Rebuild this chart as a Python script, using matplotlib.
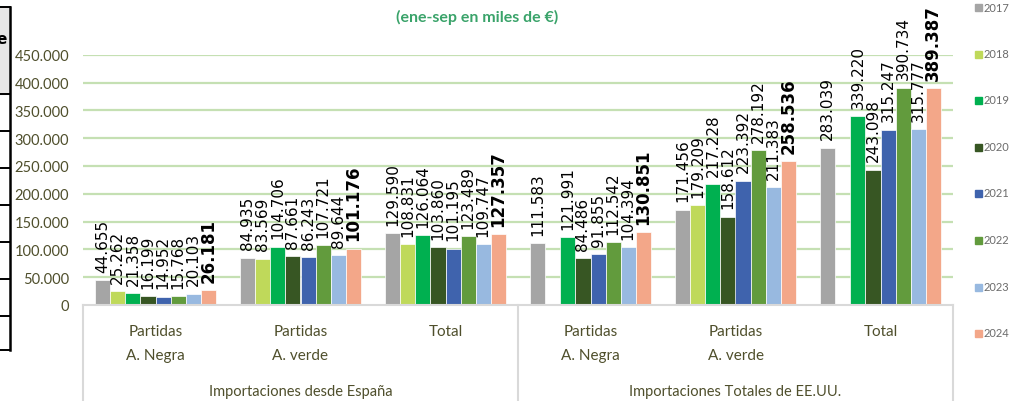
import numpy as np
import matplotlib
matplotlib.use("Agg")
import matplotlib.pyplot as plt
from matplotlib.lines import Line2D
from matplotlib.patches import Rectangle
from matplotlib.ticker import FuncFormatter

# ---- data (miles de €, ene-sep) ----
years = ["2017", "2018", "2019", "2020", "2021", "2022", "2023", "2024"]
categories = ["Partidas\nA. Negra", "Partidas\nA. verde", "Total",
              "Partidas\nA. Negra", "Partidas\nA. verde", "Total"]
groups = ["Importaciones desde España", "Importaciones Totales de EE.UU."]

v2017 = [44655, 84935, 129590, 111583, 171456, 283039]
v2018 = [25262, 83569, 108831, None, 179209, None]
v2019 = [21358, 104706, 126064, 121991, 217228, 339220]
v2020 = [16199, 87661, 103860, 84486, 158612, 243098]
v2021 = [14952, 86243, 101195, 91855, 223392, 315247]
v2022 = [15768, 107721, 123489, 112542, 278192, 390734]
v2023 = [20103, 89644, 109747, 104394, 211383, 315777]
v2024 = [26181, 101176, 127357, 130851, 258536, 389387]
series = [v2017, v2018, v2019, v2020, v2021, v2022, v2023, v2024]

colors = ["#A5A5A5", "#BFD95A", "#00B050", "#375623",
          "#3F63AD", "#629B3D", "#98B9E0", "#F3A789"]

W, H = 1013, 402
fig = plt.figure(figsize=(W / 100, H / 100), dpi=100)


def px_box(x0, y_top, x1, y_bot):
    """Figure-fraction rect from pixel coordinates (origin top-left)."""
    return [x0 / W, 1 - y_bot / H, (x1 - x0) / W, (y_bot - y_top) / H]


def thousands(v):
    return f"{int(v):,}".replace(",", ".")


label_font = "Lato"
text_col = "#4F4F2C"

# ---- main plot area ----
ax = fig.add_axes(px_box(83, 55.7, 953, 306))
ax.set_xlim(-0.5, len(categories) - 0.5)
ax.set_ylim(0, 450000)
yticks = np.arange(0, 450001, 50000)
ax.set_yticks(yticks)
ax.yaxis.set_major_formatter(FuncFormatter(lambda v, p: thousands(v)))
ax.tick_params(axis="y", length=0, pad=10, labelsize=10.5, labelcolor=text_col)
for t in ax.get_yticklabels():
    t.set_fontfamily(label_font)
ax.set_xticks([])
for s in ax.spines.values():
    s.set_visible(False)
for yv in yticks[1:]:
    ax.axhline(yv, color="#C5E0B3", lw=1.6, zorder=0)

n = len(years)
bw = 0.104
x = np.arange(len(categories))
for j, (yr, vals, c) in enumerate(zip(years, series, colors)):
    vals_arr = np.array([np.nan if v is None else v for v in vals], dtype=float)
    xs = x + (j - (n - 1) / 2) * bw
    ax.bar(xs, vals_arr, width=bw, color=c, edgecolor="white", linewidth=0.5,
           zorder=2)
    last = j == n - 1
    for xi, v in zip(xs, vals_arr):
        if np.isnan(v):
            continue
        ax.annotate(thousands(v), (xi, v), xytext=(0, 6),
                    textcoords="offset points", rotation=90,
                    ha="center", va="bottom", clip_on=False,
                    fontsize=12 if last else 11,
                    fontweight="bold" if last else "normal",
                    family="DejaVu Sans", color="black", zorder=3)

# ---- multi-level category axis ----
cax = fig.add_axes(px_box(83, 306, 953, 402 + 2))
cax.set_xlim(-0.5, len(categories) - 0.5)
cax.set_ylim(0, 1)
cax.axis("off")
box_col = "#D9D9D9"
cax.plot([-0.5, len(categories) - 0.5], [1, 1], color=box_col, lw=1.5,
         clip_on=False)
for xv in (-0.5, 2.5, len(categories) - 0.5):
    cax.plot([xv, xv], [0, 1], color=box_col, lw=1.5, clip_on=False)
for i, cat in enumerate(categories):
    for k, line in enumerate(cat.split("\n")):
        cax.text(i, 0.735 - k * 0.25, line, ha="center", va="center",
                 fontsize=11, family=label_font, color=text_col)
for g, name in enumerate(groups):
    cax.text(1 + 3 * g, 0.125, name, ha="center", va="center",
             fontsize=10.5, family=label_font, color=text_col)

# ---- legend ----
leg_y = [8, 55, 101, 148, 194, 241, 288, 334]
for yr, c, yp in zip(years, colors, leg_y):
    fig.add_artist(Rectangle((975 / W, 1 - (yp + 3.5) / H), 7 / W, 7 / H,
                             transform=fig.transFigure, color=c))
    fig.text(984 / W, 1 - yp / H, yr, ha="left", va="center",
             fontsize=8, family=label_font, color="#6B6B6B")

# ---- title (second line) ----
fig.text(477 / W, 1 - 17 / H, "(ene-sep en miles de €)", ha="center",
         va="center", fontsize=11.5, fontweight="bold", family=label_font,
         color="#3AA36A")

# ---- adjoining table edge ----
fig.add_artist(Rectangle((0, 1 - 95 / H), 10 / W, 87 / H,
                         transform=fig.transFigure, color="#E7E6E6", zorder=0))
fig.add_artist(Line2D([10 / W, 10 / W], [1 - 8 / H, 1 - 351 / H],
                      transform=fig.transFigure, color="black", lw=1.8))
for yp in [8, 95, 132, 169, 206, 243, 280, 317, 351]:
    fig.add_artist(Line2D([0, 10 / W], [1 - yp / H, 1 - yp / H],
                          transform=fig.transFigure, color="black", lw=1.4))
fig.text(7 / W, 1 - 40 / H, "e", ha="right", va="center", fontsize=11,
         fontweight="bold", family="DejaVu Sans", color="black")

fig.savefig("out.png", dpi=100)
